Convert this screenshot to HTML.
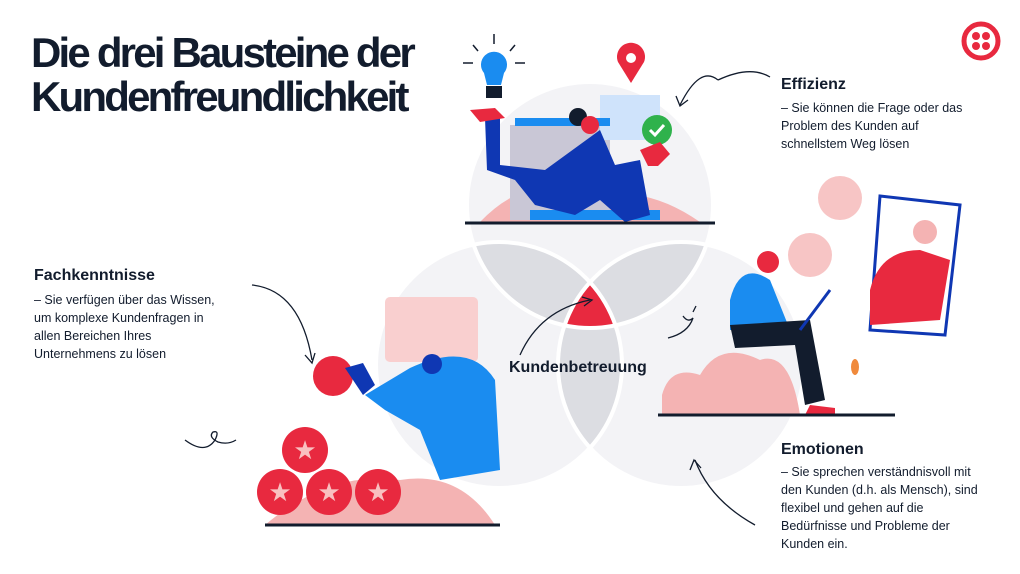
<!DOCTYPE html>
<html><head><meta charset="utf-8"><style>
html,body{margin:0;padding:0;background:#fff;}
body{width:1020px;height:574px;overflow:hidden;position:relative;font-family:"Liberation Sans",sans-serif;color:#121c2d;}
.t{position:absolute;left:31px;font-weight:bold;font-size:42px;letter-spacing:-2.8px;line-height:44px;}
.h{position:absolute;font-weight:bold;font-size:16px;}
.b{position:absolute;font-size:12.5px;line-height:18px;}
svg{position:absolute;left:0;top:0;}
</style></head><body>
<svg width="1020" height="574" viewBox="0 0 1020 574">
<defs>
<clipPath id="cT"><circle cx="590" cy="205" r="123"/></clipPath>
<clipPath id="cL"><circle cx="499" cy="365" r="123"/></clipPath>
<clipPath id="cR"><circle cx="681" cy="365" r="123"/></clipPath>
</defs>
<circle cx="590" cy="205" r="123" fill="#f3f3f6"/>
<circle cx="499" cy="365" r="123" fill="#f3f3f6"/>
<circle cx="681" cy="365" r="123" fill="#f3f3f6"/>
<g clip-path="url(#cT)"><circle cx="499" cy="365" r="123" fill="#dcdde2"/><circle cx="681" cy="365" r="123" fill="#dcdde2"/></g>
<g clip-path="url(#cL)"><circle cx="681" cy="365" r="123" fill="#dcdde2"/></g>
<g clip-path="url(#cT)"><g clip-path="url(#cL)"><circle cx="681" cy="365" r="123" fill="#e8293f"/></g></g>
<g fill="none" stroke="#fff" stroke-width="4">
<circle cx="590" cy="205" r="123"/><circle cx="499" cy="365" r="123"/><circle cx="681" cy="365" r="123"/></g>

<!-- top scene -->
<path d="M480 222 Q530 170 580 200 Q640 180 700 222Z" fill="#f4b3b3"/>
<rect x="510" y="125" width="100" height="95" fill="#c9c7d6"/>
<rect x="600" y="95" width="60" height="45" fill="#cfe3fb"/>
<rect x="515" y="118" width="95" height="8" fill="#1a8cf0"/>
<rect x="530" y="210" width="130" height="10" fill="#1a8cf0"/>
<path d="M485 118 L500 118 L500 165 L545 170 L600 130 L615 165 L640 160 L650 215 L625 222 L600 200 L575 215 L535 205 L515 180 L487 170Z" fill="#0f37b3"/>
<path d="M470 110 L495 108 L505 118 L480 122Z" fill="#e8293f"/>
<circle cx="578" cy="117" r="9" fill="#121c2d"/><circle cx="590" cy="125" r="9" fill="#e8293f"/>
<circle cx="657" cy="130" r="15" fill="#2fb24c"/><path d="M650 130 l5 5 l9 -10" stroke="#fff" stroke-width="3" fill="none"/>
<path d="M640 150 l20 -8 l10 12 l-12 12 l-10 0Z" fill="#e8293f"/>
<path d="M631 83 L618 62 A14 14 0 1 1 644 62Z" fill="#e8293f"/><circle cx="631" cy="58" r="5" fill="#fff"/>
<path d="M484 73 a13 13 0 1 1 20 0 l-3 12 h-14z" fill="#1a8cf0"/><rect x="486" y="86" width="16" height="12" fill="#121c2d"/>
<g stroke="#121c2d" stroke-width="1.5"><line x1="494" y1="34" x2="494" y2="44"/><line x1="463" y1="63" x2="473" y2="63"/><line x1="515" y1="63" x2="525" y2="63"/><line x1="473" y1="45" x2="478" y2="51"/><line x1="515" y1="45" x2="510" y2="51"/></g>
<line x1="465" y1="223" x2="715" y2="223" stroke="#121c2d" stroke-width="3"/>

<!-- left scene -->
<path d="M265 525 Q330 470 400 480 Q460 470 495 525Z" fill="#f4b3b3"/>
<rect x="385" y="297" width="93" height="65" rx="5" fill="#f9cfcf"/>
<path d="M365 395 L410 368 Q470 340 495 380 L500 470 L440 480 L420 430 L385 410Z" fill="#1a8cf0"/>
<circle cx="432" cy="364" r="10" fill="#0f37b3"/>
<circle cx="333" cy="376" r="20" fill="#e8293f"/><path d="M345 368 l18 -5 l12 22 l-12 10Z" fill="#0f37b3"/>
<g fill="#e8293f"><circle cx="305" cy="450" r="23"/><circle cx="280" cy="492" r="23"/><circle cx="329" cy="492" r="23"/><circle cx="378" cy="492" r="23"/></g>
<g fill="#f9c0c0" font-size="26" text-anchor="middle"><text x="305" y="459">★</text><text x="280" y="501">★</text><text x="329" y="501">★</text><text x="378" y="501">★</text></g>
<line x1="265" y1="525" x2="500" y2="525" stroke="#121c2d" stroke-width="3"/>
<g fill="none" stroke="#121c2d" stroke-width="1.3">
<path d="M252 285 Q300 290 312 360"/><path d="M305 355 l7 8 l3 -10"/>
<path d="M185 440 q20 15 30 0 q5 -10 -2 -8 q-5 5 5 10 q10 3 18 -2"/>
<path d="M520 355 Q540 310 590 300"/><path d="M582 297 l10 3 l-8 6"/>
<path d="M718 80 Q700 65 680 105"/><path d="M676 96 l4 10 l8 -6"/><path d="M718 80 Q750 65 770 77"/>
<path d="M755 525 Q710 500 695 460"/><path d="M690 470 l4 -10 l7 8"/>
<path d="M668 338 q20 -5 25 -20 q-5 5 -10 -2 M693 312 l3 -6"/>
</g>

<!-- right scene -->
<path d="M662 415 L662 395 Q670 365 700 375 Q720 340 760 360 Q790 350 800 415Z" fill="#f4b3b3"/>
<path d="M730 300 Q740 260 770 280 L790 330 L730 330Z" fill="#1a8cf0"/>
<path d="M730 325 L810 320 L825 400 L805 405 L795 345 L735 348Z" fill="#121c2d"/>
<circle cx="768" cy="262" r="11" fill="#e8293f"/>
<path d="M805 415 l5 -10 l25 3 l0 7Z" fill="#e8293f"/>
<line x1="800" y1="330" x2="830" y2="290" stroke="#0f37b3" stroke-width="3"/>
<path d="M880 196 L960 205 L945 335 L870 330Z" fill="#fff" stroke="#0f37b3" stroke-width="3"/>
<path d="M870 290 Q880 250 920 250 L950 260 L940 320 L870 325Z" fill="#e8293f"/>
<circle cx="925" cy="232" r="12" fill="#f4b3b3"/>
<circle cx="840" cy="198" r="22" fill="#f7c5c5"/><circle cx="810" cy="255" r="22" fill="#f7c5c5"/>
<line x1="658" y1="415" x2="895" y2="415" stroke="#121c2d" stroke-width="3"/>
<ellipse cx="855" cy="367" rx="4" ry="8" fill="#f08a3c"/>

<!-- logo -->
<circle cx="981" cy="41" r="17" fill="none" stroke="#e8293f" stroke-width="5"/>
<g fill="#e8293f"><circle cx="976" cy="36" r="4"/><circle cx="986" cy="36" r="4"/><circle cx="976" cy="46" r="4"/><circle cx="986" cy="46" r="4"/></g>
</svg>

<div class="t" style="top:31px">Die drei Bausteine der</div>
<div class="t" style="top:75px">Kundenfreundlichkeit</div>

<div class="h" style="left:781px;top:76px">Effizienz</div>
<div class="b" style="left:781px;top:99px">– Sie können die Frage oder das<br>Problem des Kunden auf<br>schnellstem Weg lösen</div>

<div class="h" style="left:34px;top:267px">Fachkenntnisse</div>
<div class="b" style="left:34px;top:291px">– Sie verfügen über das Wissen,<br>um komplexe Kundenfragen in<br>allen Bereichen Ihres<br>Unternehmens zu lösen</div>

<div class="h" style="left:509px;top:359px">Kundenbetreuung</div>

<div class="h" style="left:781px;top:441px">Emotionen</div>
<div class="b" style="left:781px;top:463px">– Sie sprechen verständnisvoll mit<br>den Kunden (d.h. als Mensch), sind<br>flexibel und gehen auf die<br>Bedürfnisse und Probleme der<br>Kunden ein.</div>
</body></html>
